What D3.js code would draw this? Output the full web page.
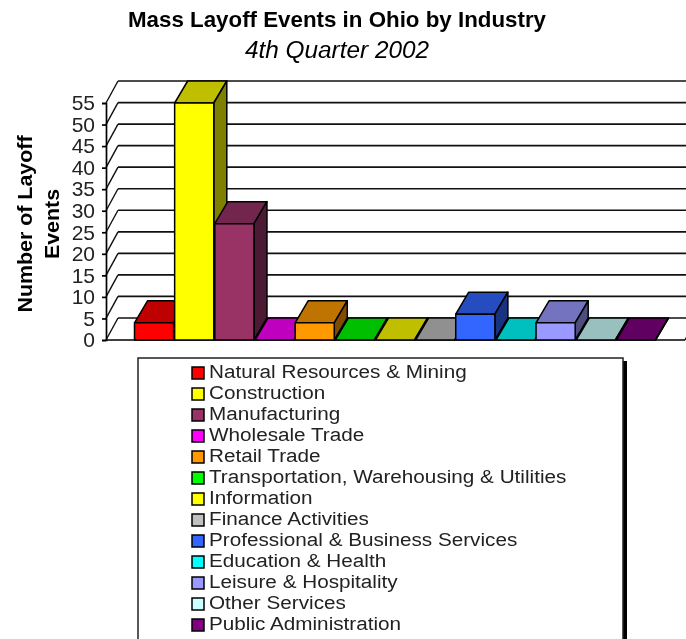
<!DOCTYPE html>
<html lang="en">
<head>
<meta charset="utf-8">
<title>Mass Layoff Events in Ohio by Industry</title>
<style>
html, body { margin:0; padding:0; background:#fff; overflow:hidden; }
svg { display:block; font-family:"Liberation Sans", Arial, sans-serif; filter:blur(0.5px); }
</style>
<script src="https://cdn.jsdelivr.net/npm/d3@7/dist/d3.min.js"></script>
</head>
<body>
<script>
// Values
var categories = ["Natural Resources & Mining", "Construction", "Manufacturing", "Wholesale Trade",
                  "Retail Trade", "Transportation, Warehousing & Utilities", "Information", "Finance Activities",
                  "Professional & Business Services", "Education & Health", "Leisure & Hospitality",
                  "Other Services", "Public Administration"];
var layoffEvents = [4, 55, 27, 0, 4, 0, 0, 0, 6, 0, 4, 0, 0];
var yTicks = [0, 5, 10, 15, 20, 25, 30, 35, 40, 45, 50, 55];
var barColors = ["#ff0000", "#ffff00", "#993366", "#ff00ff", "#ff9900", "#00ff00", "#ffff00",
                 "#c0c0c0", "#3366ff", "#00ffff", "#9999ff", "#ccffff", "#800080"];

var width = 686, height = 639;
var depthX = 12, depthY = 22;   // 3d offset of the back wall
var barDepthX = 13;

var svg = d3.select("body").append("svg")
    .attr("width", width)
    .attr("height", height);

var x = d3.scaleBand().domain(categories).range([134.5, 656.5]).paddingInner(0);
var y = d3.scaleLinear().domain([0, 55]).range([340, 103]);

// Titles, the original font runs wider than Liberation so they get stretched
svg.append("text").attr("transform", "translate(337,27) scale(1.015,1)").attr("text-anchor", "middle")
    .style("font-size", "22px").style("font-weight", "bold")
    .text("Mass Layoff Events in Ohio by Industry");
svg.append("text").attr("transform", "translate(337,58) scale(1.06,1)").attr("text-anchor", "middle")
    .style("font-size", "23px").style("font-style", "italic")
    .text("4th Quarter 2002");

var yTitle = svg.append("text").attr("transform", "translate(0,224) rotate(-90) scale(1.07,1)")
    .attr("text-anchor", "middle")
    .style("font-size", "20px").style("font-weight", "bold");
yTitle.append("tspan").attr("x", 0).attr("y", 32).text("Number of Layoff");
yTitle.append("tspan").attr("x", 0).attr("y", 59).text("Events");

// Back wall lines and side wall diagonals
var xFloor = 106;
svg.append("g").selectAll("line.grid").data(yTicks).enter().append("line")
    .attr("x1", xFloor + depthX).attr("x2", width)
    .attr("y1", function(d) { return y(d) - depthY; })
    .attr("y2", function(d) { return y(d) - depthY; })
    .style("stroke", "#111").style("stroke-width", 1.7);
svg.append("g").selectAll("line.diag").data(yTicks).enter().append("line")
    .attr("x1", xFloor).attr("x2", xFloor + depthX)
    .attr("y1", function(d) { return y(d); })
    .attr("y2", function(d) { return y(d) - depthY; })
    .style("stroke", "#111").style("stroke-width", 1.4);

// Axis
var axis = d3.axisLeft(y).tickValues(yTicks).tickSize(4).tickPadding(7);
var axisG = svg.append("g").attr("transform", "translate(" + xFloor + ",0)").call(axis);
axisG.selectAll("path, line").style("stroke", "#000").style("stroke-width", 1.7);
axisG.selectAll("text").style("font-size", "21px").style("font-family", "inherit").style("fill", "#222");

// Floor front edge
svg.append("line").attr("x1", xFloor).attr("x2", 685).attr("y1", y(0)).attr("y2", y(0))
    .style("stroke", "#000").style("stroke-width", 1.7);
svg.append("line").attr("x1", 685).attr("x2", 685 + depthX).attr("y1", y(0)).attr("y2", y(0) - depthY)
    .style("stroke", "#111").style("stroke-width", 1.4);

function shade(c, k) {
    var r = d3.rgb(c);
    return d3.rgb(r.r * k, r.g * k, r.b * k).formatHex();
}

// Bars, left to right so each one covers the side of the previous one
var bars = svg.append("g").selectAll("g.bar").data(categories).enter().append("g").attr("class", "bar");
function stroked(sel) {
    return sel.style("stroke", "#000").style("stroke-width", 1.5).style("stroke-linejoin", "round");
}
stroked(bars.append("path"))
    .attr("fill", function(d, i) { return shade(barColors[i], 0.75); })
    .attr("d", function(d, i) {
        var x0 = x(d), x1 = x0 + x.bandwidth() - 1, t = y(layoffEvents[i]);
        return "M" + x0 + "," + t + "L" + (x0 + barDepthX) + "," + (t - depthY) + "L" + (x1 + barDepthX) + "," + (t - depthY) + "L" + x1 + "," + t + "Z";
    });
stroked(bars.append("path"))
    .attr("fill", function(d, i) { return shade(barColors[i], 0.5); })
    .attr("d", function(d, i) {
        var x1 = x(d) + x.bandwidth() - 1, t = y(layoffEvents[i]);
        return "M" + x1 + "," + t + "L" + (x1 + barDepthX) + "," + (t - depthY) + "L" + (x1 + barDepthX) + "," + (y(0) - depthY) + "L" + x1 + "," + y(0) + "Z";
    });
stroked(bars.append("rect"))
    .attr("x", function(d) { return x(d); })
    .attr("y", function(d, i) { return y(layoffEvents[i]); })
    .attr("width", x.bandwidth() - 1)
    .attr("height", function(d, i) { return y(0) - y(layoffEvents[i]); })
    .attr("fill", function(d, i) { return barColors[i]; });

// Legend box, runs off the bottom of the picture
svg.append("rect").attr("x", 141).attr("y", 361).attr("width", 486).attr("height", 300).attr("fill", "#000");
svg.append("rect").attr("x", 138).attr("y", 358).attr("width", 485).attr("height", 300)
    .attr("fill", "#fff").style("stroke", "#222").style("stroke-width", 1.5);

var rowY = d3.scalePoint().domain(categories).range([371, 623]);
var legend = svg.append("g").selectAll("g.item").data(categories).enter().append("g")
    .attr("transform", function(d) { return "translate(0," + rowY(d) + ")"; });
legend.append("rect").attr("x", 192).attr("y", -4).attr("width", 12).attr("height", 12)
    .attr("fill", function(d, i) { return barColors[i]; })
    .style("stroke", "#000").style("stroke-width", 1.5);
legend.append("text").attr("transform", "translate(209,6.5) scale(1.09,1)")
    .style("font-size", "19px").style("fill", "#222")
    .text(function(d) { return d; });
</script>
</body>
</html>
